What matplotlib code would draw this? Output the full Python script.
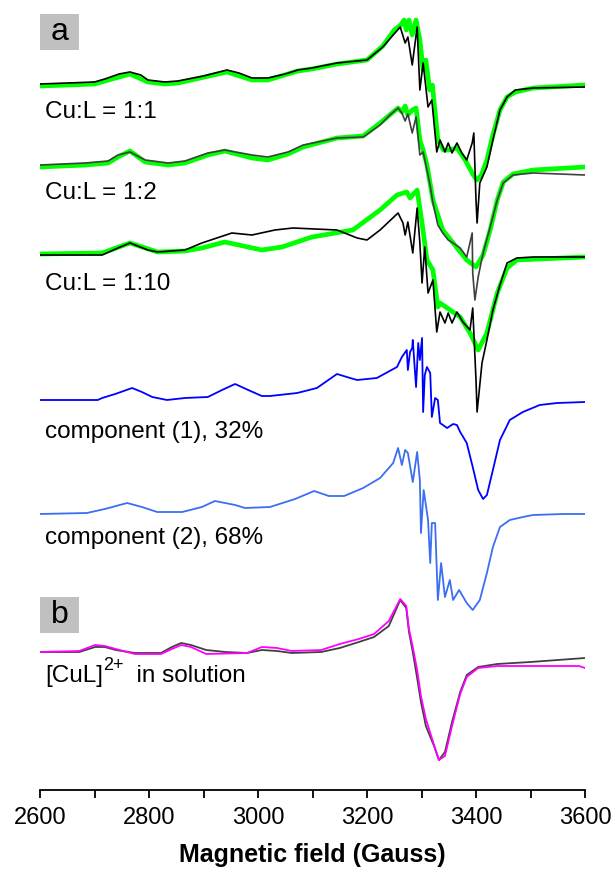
import matplotlib
matplotlib.use('Agg')
from matplotlib import pyplot as plt
from matplotlib.patches import Rectangle
import numpy as np

plt.rcParams['font.family'] = ['Liberation Sans', 'DejaVu Sans']

b1 = [2600, 2651, 2700, 2719, 2745, 2765, 2785, 2798, 2829, 2853, 2900, 2943, 2965, 2989, 3018, 3050, 3073,
      3099, 3145, 3200, 3229, 3248, 3261, 3270, 3275, 3283, 3292, 3297, 3303, 3312, 3319, 3328, 3334, 3343,
      3349, 3356, 3365, 3374, 3383, 3393, 3396, 3400, 3402, 3407, 3420, 3431, 3444, 3457, 3472, 3505, 3600]
exp_11 = [0, 1, 2, 5, 10, 12, 9, 4, 2, 3, 8, 14, 11, 6, 6, 10, 14, 16, 21, 24, 37, 49, 57, 41, 47, 19, 57, -6,
          21, -23, -16, -68, -56, -68, -59, -69, -59, -69, -76, -59, -49, -116, -139, -99, -83, -56, -26, -13,
          -6, -4, -3]
b1s = [2600, 2651, 2700, 2719, 2765, 2798, 2829, 2853, 2943, 2989, 3018, 3073, 3099, 3145, 3200, 3229, 3250,
       3262, 3268, 3272, 3277, 3283, 3290, 3297, 3303, 3308, 3315, 3320, 3330, 3340, 3350, 3365, 3380, 3395,
       3402, 3410, 3420, 3431, 3444, 3457, 3472, 3505, 3600]
sim_11 = [-2, -1, 0, 3, 10, 2, 0, 1, 12, 4, 4, 13, 15, 20, 24, 38, 54, 59, 64, 54, 64, 49, 64, 44, 14, 24, -6,
          -1, -56, -66, -66, -64, -76, -91, -96, -91, -76, -51, -26, -13, -8, -4, -1]

b2 = [2600, 2683, 2725, 2743, 2765, 2793, 2835, 2866, 2908, 2939, 2989, 3018, 3055, 3083, 3145, 3193, 3224,
      3242, 3257, 3264, 3270, 3275, 3283, 3290, 3297, 3303, 3310, 3316, 3321, 3330, 3339, 3349, 3358, 3371,
      3383, 3393, 3394, 3398, 3404, 3413, 3426, 3439, 3450, 3468, 3505, 3600]
exp_12 = [0, 2, 4, 10, 13, 5, 2, 4, 12, 15, 10, 8, 13, 20, 27, 28, 40, 50, 57, 52, 44, 51, 32, 48, 10, 13, -5,
          -21, -38, -60, -68, -75, -78, -83, -92, -68, -108, -135, -112, -88, -62, -35, -18, -10, -8, -10]
b2s = [2600, 2683, 2725, 2743, 2765, 2793, 2835, 2866, 2908, 2939, 2989, 3018, 3055, 3083, 3145, 3193, 3224,
       3257, 3264, 3270, 3275, 3283, 3290, 3297, 3303, 3310, 3321, 3339, 3358, 3383, 3400, 3413, 3426, 3439,
       3450, 3468, 3505, 3600]
sim_12 = [-2, 0, 2, 8, 14, 3, 0, 2, 10, 14, 7, 5, 11, 18, 27, 29, 42, 57, 53, 59, 50, 55, 57, 25, 15, 0, -35,
          -65, -78, -95, -102, -90, -65, -35, -17, -9, -5, -2]

b3 = [2600, 2714, 2743, 2765, 2798, 2816, 2866, 2897, 2952, 2989, 3031, 3064, 3145, 3182, 3200, 3224, 3257,
      3266, 3270, 3275, 3284, 3292, 3297, 3301, 3306, 3312, 3321, 3328, 3334, 3343, 3349, 3356, 3365, 3376,
      3389, 3394, 3400, 3402, 3411, 3420, 3431, 3444, 3457, 3475, 3505, 3600]
exp_110 = [0, 0, 7, 12, 5, 3, 5, 12, 22, 20, 25, 27, 25, 17, 15, 25, 42, 32, 20, 33, 2, 47, 12, -28, 8, -38,
           -25, -77, -57, -68, -58, -68, -57, -67, -75, -53, -125, -157, -108, -85, -55, -30, -8, -3, -2, -2]
b3s = [2600, 2714, 2765, 2816, 2866, 2897, 2939, 3007, 3044, 3099, 3174, 3224, 3255, 3273, 3279, 3292, 3301,
       3310, 3321, 3330, 3334, 3371, 3389, 3404, 3420, 3439, 3457, 3475, 3600]
sim_110 = [1, 2, 12, 3, 4, 7, 13, 5, 8, 18, 25, 45, 60, 63, 57, 65, 32, -5, -15, -52, -48, -62, -78, -95,
           -78, -38, -13, -5, -2]

b4 = [2600, 2706, 2714, 2738, 2769, 2787, 2806, 2833, 2866, 2908, 2934, 2958, 2982, 3007, 3022, 3072, 3108,
      3145, 3169, 3182, 3218, 3255, 3264, 3273, 3275, 3279, 3283, 3284, 3290, 3294, 3297, 3301, 3303, 3306,
      3310, 3316, 3319, 3325, 3330, 3334, 3347, 3358, 3365, 3371, 3383, 3394, 3404, 3413, 3420, 3431, 3444,
      3462, 3486, 3517, 3549, 3600]
comp1 = [0, 0, 2, 6, 12, 8, 3, 0, 2, 3, 10, 16, 10, 4, 4, 7, 12, 26, 22, 20, 22, 33, 43, 50, 30, 48, 52, 60,
         13, 57, 40, 62, -12, 25, 33, 27, -17, 2, 0, -23, -28, -24, -25, -32, -43, -67, -90, -99, -95, -70,
         -40, -20, -12, -5, -3, -2]

b5 = [2600, 2686, 2719, 2760, 2787, 2815, 2861, 2897, 2921, 2958, 2976, 3022, 3068, 3103, 3130, 3158, 3193,
      3224, 3248, 3257, 3264, 3270, 3275, 3284, 3292, 3297, 3299, 3304, 3312, 3316, 3319, 3325, 3330, 3336,
      3343, 3352, 3358, 3369, 3383, 3394, 3407, 3420, 3431, 3444, 3462, 3486, 3505, 3560, 3600]
comp2 = [0, 1, 5, 11, 7, 2, 2, 7, 13, 9, 6, 7, 15, 23, 18, 18, 26, 36, 51, 66, 49, 64, 61, 32, 62, 34, -19,
         24, -6, -49, -9, -9, -86, -49, -83, -66, -86, -76, -89, -96, -86, -59, -33, -13, -6, -3, -1, 0, 0]

b6 = [2600, 2672, 2701, 2719, 2739, 2774, 2822, 2842, 2859, 2877, 2905, 2980, 3007, 3035, 3062, 3116, 3150,
      3185, 3213, 3240, 3261, 3272, 3277, 3284, 3292, 3299, 3308, 3323, 3332, 3343, 3356, 3371, 3383, 3404,
      3439, 3589, 3600]
sol_sim = [0, 1, 7, 6, 3, -2, -2, 3, 7, 5, -2, -1, 5, 4, 1, 2, 8, 13, 18, 31, 53, 46, 23, 5, -18, -44, -67,
           -93, -108, -104, -74, -42, -25, -16, -14, -14, -16]
b6e = [2600, 2672, 2701, 2719, 2739, 2774, 2822, 2842, 2859, 2877, 2905, 2940, 2980, 3007, 3035, 3062, 3116,
       3150, 3185, 3213, 3240, 3261, 3272, 3277, 3284, 3292, 3299, 3308, 3323, 3332, 3343, 3356, 3371, 3383,
       3404, 3439, 3500, 3550, 3600]
sol_exp = [0, 0, 5, 5, 2, -1, -1, 5, 9, 7, 2, 0, -1, 2, 1, -1, 0, 4, 10, 15, 26, 52, 44, 20, 0, -26, -50, -74,
           -94, -108, -100, -70, -40, -23, -15, -12, -10, -8, -6]

labels = ['Cu:L = 1:1', 'Cu:L = 1:2', 'Cu:L = 1:10',
          'component (1), 32%', 'component (2), 68%']

# vertical stacking of the traces
offsets = [-84, -165, -255, -400, -514, -652]
label_y = [-112, -193, -284, -432, -538, -676]

green = '#00ff00'

fig = plt.figure(figsize=(6.13, 8.72), dpi=100)
ax = fig.add_axes([40 / 613, 82 / 872, 545 / 613, 790 / 872])

ax.plot(b1s, np.array(sim_11) + offsets[0], color=green, lw=3.4)
ax.plot(b1, np.array(exp_11) + offsets[0], color='black', lw=1.2)
ax.plot(b2s, np.array(sim_12) + offsets[1], color=green, lw=3.4)
ax.plot(b2, np.array(exp_12) + offsets[1], color='#404040', lw=1.2)
ax.plot(b3s, np.array(sim_110) + offsets[2], color=green, lw=3.4)
ax.plot(b3, np.array(exp_110) + offsets[2], color='black', lw=1.2)
ax.plot(b4, np.array(comp1) + offsets[3], color='#0000ff', lw=1.3)
ax.plot(b5, np.array(comp2) + offsets[4], color='#3c6ef2', lw=1.3)
ax.plot(b6e, np.array(sol_exp) + offsets[5], color='#404040', lw=1.3)
ax.plot(b6, np.array(sol_sim) + offsets[5], color='#ff00ff', lw=1.3)

for lab, y in zip(labels, label_y):
    ax.text(2609, y, lab, fontsize=17.5, ha='left', va='center')

# [CuL]2+ label built from pieces so the superscript sits tight
t1 = ax.text(2609, label_y[5], '[CuL]', fontsize=17.5, ha='left', va='center')
t2 = ax.annotate('2+', xy=(1.0, 0.58), xycoords=t1, fontsize=13, ha='left', va='bottom')
ax.annotate('  in solution', xy=(1.0, 0.0), xycoords=(t2, t1), fontsize=17.5, ha='left', va='bottom')

# panel tags
for tag, ytop in [('a', -14), ('b', -597)]:
    ax.add_patch(Rectangle((2600, ytop - 36), 72, 36, facecolor='#c0c0c0', edgecolor='none'))
    ax.text(2636, ytop - 18, tag, fontsize=23, ha='center', va='center')

ax.set_xlim(2600, 3600)
ax.set_ylim(-790, 0)
for s in ['left', 'right', 'top']:
    ax.spines[s].set_visible(False)
ax.spines['bottom'].set_linewidth(1.3)
ax.set_yticks([])
ax.set_xticks(np.arange(2600, 3601, 200))
ax.set_xticks(np.arange(2700, 3600, 200), minor=True)
ax.tick_params(axis='x', which='both', direction='out', length=6, width=1.3, labelsize=17, pad=6)
ax.set_xlabel('Magnetic field (Gauss)', fontsize=18, fontweight='bold', labelpad=10)

fig.savefig('out.png', dpi=100)
